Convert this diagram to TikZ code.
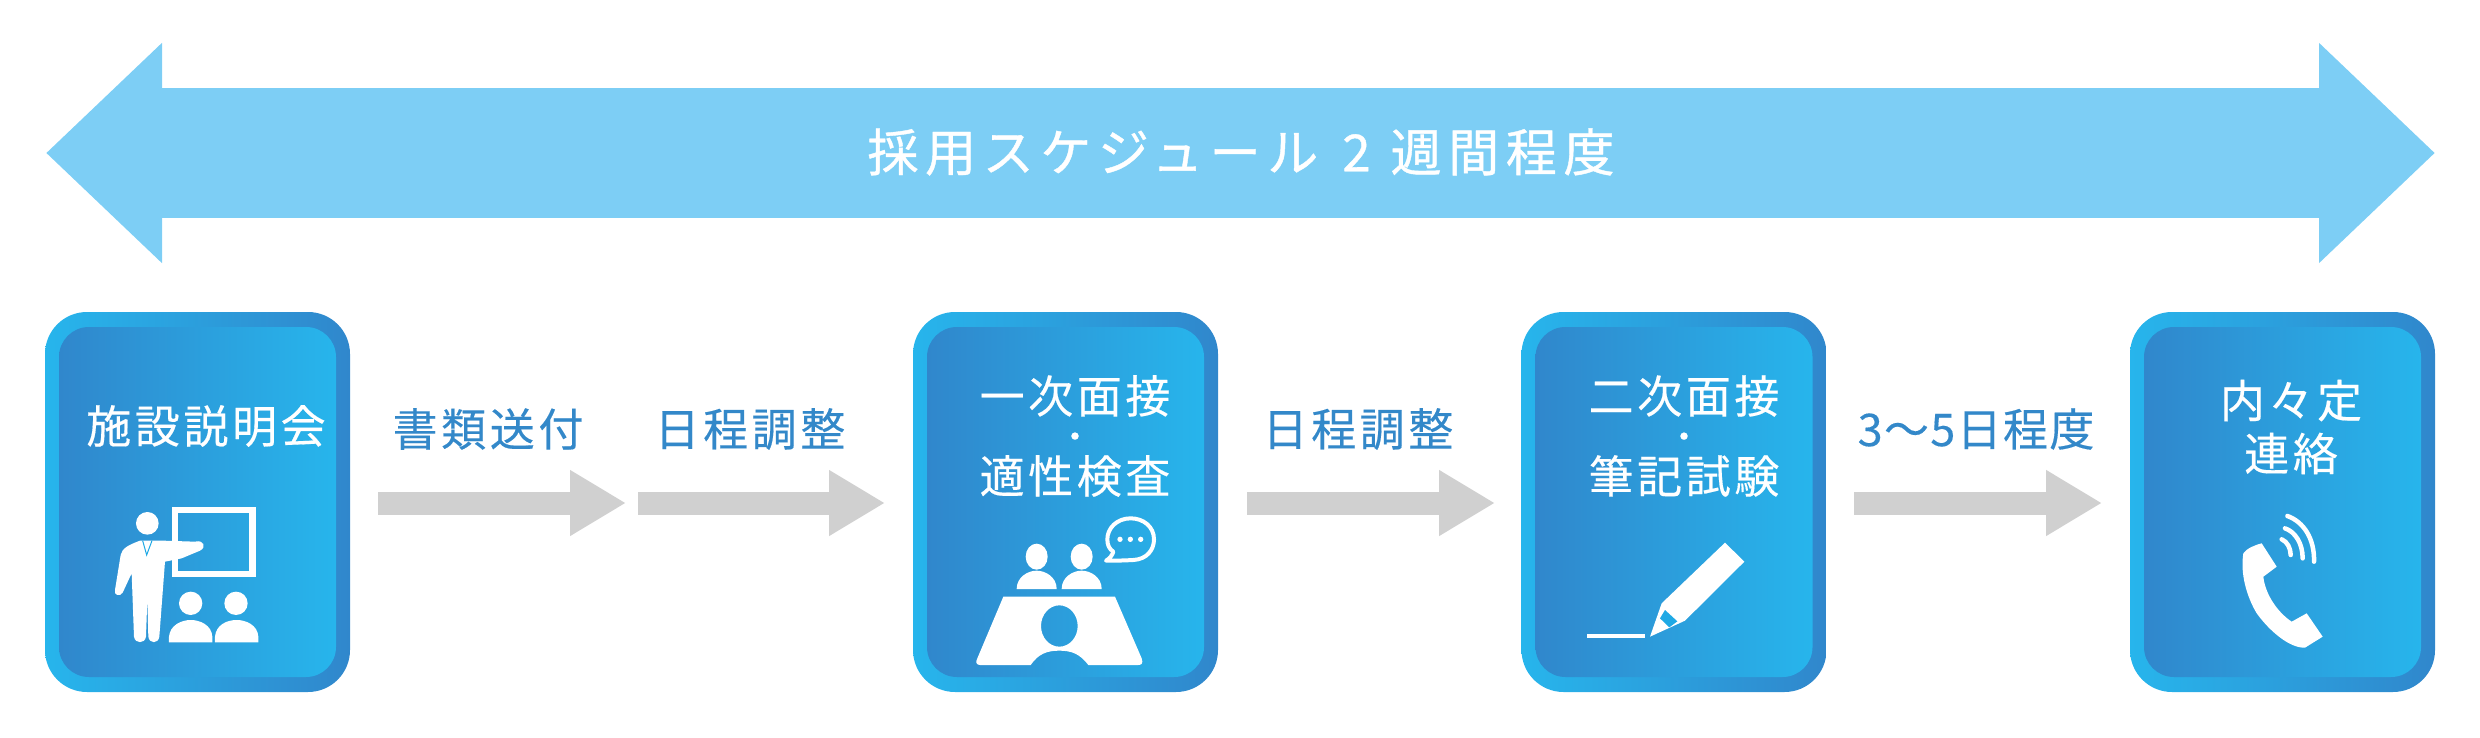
\documentclass[tikz,border=0pt]{standalone}
\usepackage{fontspec}
\usepackage{tikz}
\usetikzlibrary{positioning,arrows.meta}
\newfontfamily\jpfont[LetterSpace=8,FakeBold=0.3]{Noto Sans CJK JP}
\newfontfamily\jptight[LetterSpace=3,FakeBold=0.3]{Noto Sans CJK JP}
\newfontfamily\jptitle[LetterSpace=13,FakeBold=0.8]{Noto Sans CJK JP}
\newcommand{\middot}{\raisebox{4pt}{\fontsize{34}{40}\selectfont ・}}
\definecolor{spanblue}{HTML}{7DCEF5}
\definecolor{stepgray}{HTML}{D0D0D0}
\definecolor{cardlight}{HTML}{27B5EC}
\definecolor{cardmid}{HTML}{1FA9E5}
\definecolor{carddark}{HTML}{3087CC}
\definecolor{textblue}{HTML}{3388C9}
\tikzset{
  cardout/.style={minimum width=305pt,minimum height=380pt,inner sep=0pt,rounded corners=42pt,
    left color=cardlight,middle color=cardmid,right color=carddark},
  cardin/.style={minimum width=277pt,minimum height=350pt,inner sep=0pt,rounded corners=30pt,
    left color=carddark,middle color=cardmid,right color=cardlight},
  cardtxt/.style={text=white,font=\jpfont\fontsize{45}{40}\selectfont,align=center,inner sep=0pt},
  steptxt/.style={text=textblue,font=\jpfont\fontsize{45}{40}\selectfont,inner sep=0pt},
  steparrow/.style={draw=stepgray,line width=23pt,-{Triangle[length=56pt,width=62pt]}},
  spanarrow/.style={draw=spanblue,line width=129pt,{Triangle[length=116pt,width=213pt]}-{Triangle[length=116pt,width=213pt]}},
  icon/.style={fill=white,draw=none},
  iconline/.style={draw=white,line cap=round,line join=round}
}
\begin{document}
\begin{tikzpicture}[x=1pt,y=-1pt]
  \useasboundingbox (0,0) rectangle (2480,738);

  \coordinate (spanl) at (46,153);
  \coordinate (spanr) at (2435,153);
  \draw [spanarrow] (spanl) -- (spanr);
  \node (spantxt) at (1241,152) [text=white,font=\jptitle\fontsize{51}{50}\selectfont,inner sep=0pt] {採用スケジュール\hspace{24pt}2\hspace{20pt}週間程度};

  \node (card1) at (197.5,502) [cardout] {};
  \node (inner1) at (card1.center) [cardin] {};
  \node (card1txt) at (206,426) [cardtxt] {施設説明会};

  \node (card2) at (1065.5,502) [cardout] {};
  \node (inner2) at (card2.center) [cardin] {};
  \node (card2txt) at (1075,436) [cardtxt] {一次面接\\\middot\\適性検査};

  \node (card3) at (1674,502) [cardout] {};
  \node (inner3) at (card3.center) [cardin] {};
  \node (card3txt) at (1684,436) [cardtxt] {二次面接\\\middot\\筆記試験};

  \node (card4) at (2282.5,502) [cardout] {};
  \node (inner4) at (card4.center) [cardin] {};
  \node (card4txt) at (2291,427) [cardtxt,font=\jpfont\fontsize{45}{53}\selectfont] {内々定\\連絡};

  \coordinate (a1s) at (378,503);
  \coordinate (a1e) at (626,503);
  \coordinate (a2s) at (638,503);
  \coordinate (a2e) at (885,503);
  \coordinate (a3s) at (1247,503);
  \coordinate (a3e) at (1495,503);
  \coordinate (a4s) at (1854,503);
  \coordinate (a4e) at (2102,503);
  \draw [steparrow] (a1s) -- (a1e);
  \draw [steparrow] (a2s) -- (a2e);
  \draw [steparrow] (a3s) -- (a3e);
  \draw [steparrow] (a4s) -- (a4e);

  \node (a1txt) at (488,429) [steptxt] {書類送付};
  \node (a2txt) at (750,429) [steptxt] {日程調整};
  \node (a3txt) at (1358,429) [steptxt] {日程調整};
  \node (a4txt) at (1976,429) [steptxt,font=\jptight\fontsize{45}{40}\selectfont] {3〜5日程度};

  \begin{scope}[shift={(0,290)},scale=1/3]
    \draw [draw=white,line width=6.5pt] (525,660) rectangle (758,852);
    \fill [icon] (442,700) circle [radius=34];
    \fill [icon] (420,752) -- (490,752) -- (585,755) .. controls (612,748) and (620,772) .. (600,782)
      -- (545,805) -- (495,815) -- (478,1040) .. controls (475,1062) and (448,1062) .. (445,1040)
      -- (442,925) -- (438,1040) .. controls (435,1062) and (405,1062) .. (402,1040)
      -- (395,850) -- (368,908) .. controls (360,922) and (340,915) .. (345,900)
      -- (362,795) .. controls (366,775) and (385,765) .. cycle;
    \draw [draw=cardmid,line width=1pt] (428,752) -- (440,795) -- (456,752);
    \fill [icon] (572,940) circle [radius=35];
    \fill [icon] (708,940) circle [radius=35];
    \fill [icon] (507,1057) -- (507,1040) .. controls (510,1005) and (545,990) .. (572,990)
      .. controls (600,990) and (635,1005) .. (637,1040) -- (637,1057) -- cycle;
    \fill [icon] (645,1057) -- (645,1040) .. controls (648,1005) and (680,990) .. (710,990)
      .. controls (738,990) and (773,1005) .. (775,1040) -- (775,1057) -- cycle;
  \end{scope}

  \begin{scope}[shift={(900,300)},scale=1/3]
    \fill [icon,even odd rule] (310,890) -- (645,890) -- (725,1075) .. controls (730,1090) and (725,1095) .. (715,1095)
      -- (565,1095) .. controls (540,1062) and (515,1052) .. (478,1052) .. controls (440,1052) and (415,1062) .. (392,1095)
      -- (240,1095) .. controls (230,1095) and (225,1088) .. (232,1075) -- cycle
      (478,978) ellipse [x radius=55,y radius=62];
    \fill [icon] (410,770) ellipse [x radius=33,y radius=39];
    \fill [icon] (545,770) ellipse [x radius=33,y radius=39];
    \fill [icon] (350,867) .. controls (350,830) and (385,812) .. (410,812) .. controls (435,812) and (470,830) .. (470,867) -- cycle;
    \fill [icon] (485,867) .. controls (485,830) and (520,812) .. (545,812) .. controls (570,812) and (605,830) .. (605,867) -- cycle;
    \draw [iconline,line width=4pt] (700,780) .. controls (740,778) and (762,750) .. (762,718)
      .. controls (762,680) and (730,655) .. (692,655) .. controls (650,655) and (622,685) .. (622,718)
      .. controls (622,735) and (628,748) .. (640,755) .. controls (637,765) and (630,775) .. (618,782)
      .. controls (640,782) and (665,782) .. cycle;
    \fill [icon] (660,718) circle [radius=8];
    \fill [icon] (691,718) circle [radius=8];
    \fill [icon] (722,718) circle [radius=8];
  \end{scope}

  \begin{scope}[shift={(1510,300)},scale=1/3]
    \draw [draw=white,line width=4pt] (232,1007) -- (405,1007);
    \fill [icon] (645,728) -- (703,785) -- (525,962) -- (420,1010) -- (455,910) -- cycle;
    \fill [cardmid] (465,930) -- (502,964) -- (478,982) -- (450,955) -- cycle;
  \end{scope}

  \begin{scope}[shift={(2230,500)},scale=1/3]
    \fill [icon] (95,130) -- (140,200) -- (100,230) .. controls (105,280) and (140,335) .. (185,365)
      -- (230,340) -- (278,410) -- (225,443) .. controls (180,445) and (120,395) .. (80,340)
      .. controls (50,290) and (30,220) .. (40,160) .. controls (50,145) and (75,135) .. cycle;
    \draw [iconline,line width=4.5pt] (155,118) .. controls (172,125) and (182,145) .. (182,165);
    \draw [iconline,line width=4.5pt] (165,85) .. controls (195,95) and (218,130) .. (218,175);
    \draw [iconline,line width=4.5pt] (172,48) .. controls (220,65) and (254,115) .. (252,185);
  \end{scope}
\end{tikzpicture}
\end{document}
